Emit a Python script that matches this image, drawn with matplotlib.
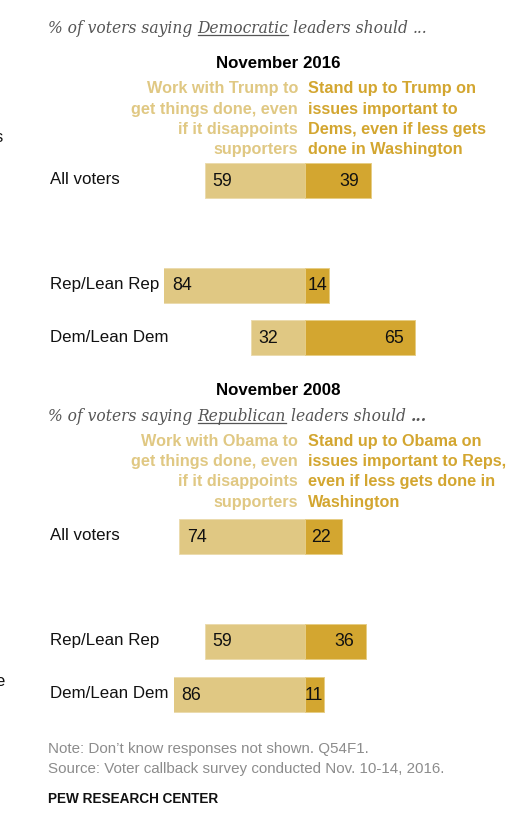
import matplotlib
matplotlib.use('Agg')
import matplotlib.pyplot as plt
from matplotlib.lines import Line2D
from matplotlib.transforms import Bbox

W, H = 528, 819

# data
groups = ['All voters', 'Rep/Lean Rep', 'Dem/Lean Dem']
work_2016 = [59, 84, 32]
stand_2016 = [39, 14, 65]
work_2008 = [74, 59, 86]
stand_2008 = [22, 36, 11]

hdr_work_2016 = ['Work with Trump to', 'get things done, even', 'if it disappoints', 'supporters']
hdr_stand_2016 = ['Stand up to Trump on', 'issues important to', 'Dems, even if less gets', 'done in Washington']
hdr_work_2008 = ['Work with Obama to', 'get things done, even', 'if it disappoints', 'supporters']
hdr_stand_2008 = ['Stand up to Obama on', 'issues important to Reps,', 'even if less gets done in', 'Washington']

note_lines = ["Note: Don\u2019t know responses not shown. Q54F1.",
              "Source: Voter callback survey conducted Nov. 10-14, 2016."]

LIGHT = '#E0C883'
DARK = '#D3A630'
SANS = ['Liberation Sans', 'DejaVu Sans']
SERIF = ['DejaVu Serif']

CENTER = 305.0   # px of the zero line
SCALE = 1.70     # px per percentage point

fig = plt.figure(figsize=(W / 100, H / 100), dpi=100)
ax = fig.add_axes([0, 0, 1, 1])
ax.set_xlim(-CENTER / SCALE, (W - CENTER) / SCALE)
ax.set_ylim(H, 0)
ax.axis('off')


def txt(x, y, s, **kw):
    kw.setdefault('family', SANS)
    return fig.text(x / W, 1 - y / H, s, **kw)


fig.canvas.draw()
rend = fig.canvas.get_renderer()


def subtitle(y, party, dots_bold):
    kw = dict(family=SERIF, style='italic', fontsize=11.2, color='#555555', va='baseline')
    t1 = txt(48.5, y, '% of voters saying', **kw)
    x1 = t1.get_window_extent(rend).x1 + 4.8
    t2 = txt(x1, y, party, **kw)
    b2 = t2.get_window_extent(rend)
    fig.add_artist(Line2D([b2.x0 / W, b2.x1 / W], [1 - (y + 2) / H] * 2,
                          color='#555555', lw=0.9))
    t3 = txt(b2.x1 + 4.8, y, 'leaders should', **kw)
    kw2 = dict(kw)
    if dots_bold:
        kw2['weight'] = 'bold'
    txt(t3.get_window_extent(rend).x1 + 4.8, y, '...', **kw2)


def panel(year_label, y_year, y_hdr, hdr_w, hdr_s, y_rows, work, stand):
    txt(278, y_year, year_label, ha='center', va='baseline', fontsize=12.2,
        weight='bold', color='black')
    for i, (a, b) in enumerate(zip(hdr_w, hdr_s)):
        yy = y_hdr + i * 20.2
        txt(298, yy, a, ha='right', va='baseline', fontsize=11.7, weight='bold', color=LIGHT)
        txt(308, yy, b, ha='left', va='baseline', fontsize=11.7, weight='bold', color=DARK)
    for yc, g, w, s in zip(y_rows, groups, work, stand):
        lab = txt(49.5, yc, g, ha='left', va='center', fontsize=12.2, color='#111111')
        lab_end = lab.get_window_extent(rend).x1
        clip_x = max(lab_end + 5.5, CENTER - w * SCALE)
        clip = Bbox.from_extents(clip_x, 0, W, H)
        bl = ax.barh(yc, -w, height=35, left=0, color=LIGHT, edgecolor='#EBDBAE', linewidth=0.7)
        br = ax.barh(yc, s, height=35, left=0, color=DARK, edgecolor='#E6CD85', linewidth=0.7)
        for p in list(bl) + list(br):
            p.set_clip_box(clip)
        txt(clip_x + 8, yc + 1, str(w), ha='left', va='center', fontsize=12.8, color='#111111')
        end_x = CENTER + s * SCALE
        if s < 20:
            txt(end_x - 1, yc + 1, str(s), ha='right', va='center', fontsize=12.8, color='#111111')
        else:
            txt(end_x - 12, yc + 1, str(s), ha='right', va='center', fontsize=12.8, color='#111111')


subtitle(33, 'Democratic', False)
panel('November 2016', 68, 93.5, hdr_work_2016, hdr_stand_2016, [180, 285, 337.5],
      work_2016, stand_2016)

subtitle(421, 'Republican', True)
panel('November 2008', 395, 446, hdr_work_2008, hdr_stand_2008, [536, 641, 694],
      work_2008, stand_2008)

# fragments of the neighbouring panel, cut by the crop as in the reference
txt(3, 137, 's', ha='right', va='center', fontsize=12, color='#111111')
txt(4.5, 681, 'e', ha='right', va='center', fontsize=12, color='#111111')

for i, line in enumerate(note_lines):
    txt(48.5, 753 + i * 20, line, ha='left', va='baseline', fontsize=10.9, color='#8c8c8c')
txt(48.5, 803, 'PEW RESEARCH CENTER', ha='left', va='baseline', fontsize=9.8,
    weight='bold', color='#111111')

fig.savefig('out.png', dpi=100)
